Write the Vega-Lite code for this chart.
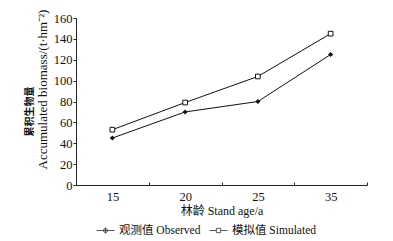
{
  "$schema": "https://vega.github.io/schema/vega-lite/v6.json",
  "width": 291,
  "height": 167,
  "autosize": "none",
  "padding": {"left": 76, "top": 18, "right": 26, "bottom": 56},
  "background": "white",
  "config": {
    "view": {"stroke": null},
    "font": "Liberation Serif",
    "axis": {"domainColor": "#222", "tickColor": "#222", "labelColor": "#111", "titleColor": "#111", "grid": false, "labelFont": "Liberation Serif", "titleFont": "Liberation Serif, Noto Sans CJK SC", "labelFontSize": 12.5, "titleFontSize": 12, "titleFontWeight": "normal"}
  },
  "data": {
    "values": [
      {"age": 15, "series": "观测值 Observed", "value": 45},
      {"age": 20, "series": "观测值 Observed", "value": 70},
      {"age": 25, "series": "观测值 Observed", "value": 80},
      {"age": 35, "series": "观测值 Observed", "value": 125},
      {"age": 15, "series": "模拟值 Simulated", "value": 53},
      {"age": 20, "series": "模拟值 Simulated", "value": 79},
      {"age": 25, "series": "模拟值 Simulated", "value": 104},
      {"age": 35, "series": "模拟值 Simulated", "value": 145}
    ]
  },
  "encoding": {
    "x": {
      "field": "age", "type": "ordinal", "bandPosition": 0.5,
      "scale": {"type": "band", "paddingInner": 0, "paddingOuter": 0},
      "axis": {"title": "林龄 Stand age/a", "labelAngle": 0, "tickBand": "extent", "tickSize": -3, "labelPadding": 8, "titlePadding": 3}
    }
  },
  "layer": [
    {
      "mark": {"type": "line", "color": "#111", "strokeWidth": 1},
      "encoding": {
        "detail": {"field": "series"},
        "y": {
          "field": "value", "type": "quantitative",
          "scale": {"domain": [0, 160], "nice": false},
          "axis": {"orient": "left", "title": "Accumulated biomass/(t·hm⁻²)", "titleFontSize": 13, "titleY": 71, "values": [0, 20, 40, 60, 80, 100, 120, 140, 160], "tickSize": 3, "labelPadding": 1, "titlePadding": 4}
        }
      }
    },
    {
      "transform": [{"filter": {"field": "series", "equal": "观测值 Observed"}}],
      "mark": {"type": "point", "shape": "diamond", "filled": true, "color": "#111", "size": 26, "opacity": 1},
      "encoding": {
        "y": {
          "field": "value", "type": "quantitative",
          "axis": {"orient": "left", "title": "累积生物量", "titleFont": "Noto Sans CJK SC", "titleFontSize": 10, "titleFontWeight": "bold", "titleY": 93, "domain": false, "ticks": false, "labels": false, "titlePadding": 42}
        }
      }
    },
    {
      "transform": [{"filter": {"field": "series", "equal": "模拟值 Simulated"}}],
      "mark": {"type": "point", "shape": "square", "filled": true, "fill": "white", "stroke": "#111", "strokeWidth": 1, "size": 22, "opacity": 1},
      "encoding": {
        "y": {"field": "value", "type": "quantitative", "axis": null}
      }
    },
    {
      "mark": {"type": "point", "filled": false, "stroke": "#111", "strokeWidth": 1, "size": 0},
      "encoding": {
        "y": {"field": "value", "type": "quantitative", "axis": null},
        "shape": {"field": "series", "scale": {"domain": ["观测值 Observed", "模拟值 Simulated"], "range": ["M-1,0L1,0M0,-0.3L0.3,0L0,0.3L-0.3,0ZM0,-0.3L0,0.3M0,-0.15L0.15,0L0,0.15L-0.15,0Z", "M-1,0L-0.24,0M0.24,0L1,0M-0.24,-0.24L0.24,-0.24L0.24,0.24L-0.24,0.24Z"]},
          "legend": {"title": null, "orient": "none", "direction": "horizontal", "legendX": 20, "legendY": 203, "symbolSize": 324, "symbolFillColor": "transparent", "symbolStrokeColor": "#111", "symbolStrokeWidth": 1, "labelFont": "Liberation Serif, Noto Sans CJK SC", "labelFontSize": 11.5, "labelColor": "#111", "labelOffset": 4, "columnPadding": 6}}
      }
    }
  ],
  "resolve": {"scale": {"y": "shared"}, "axis": {"y": "independent"}}
}
